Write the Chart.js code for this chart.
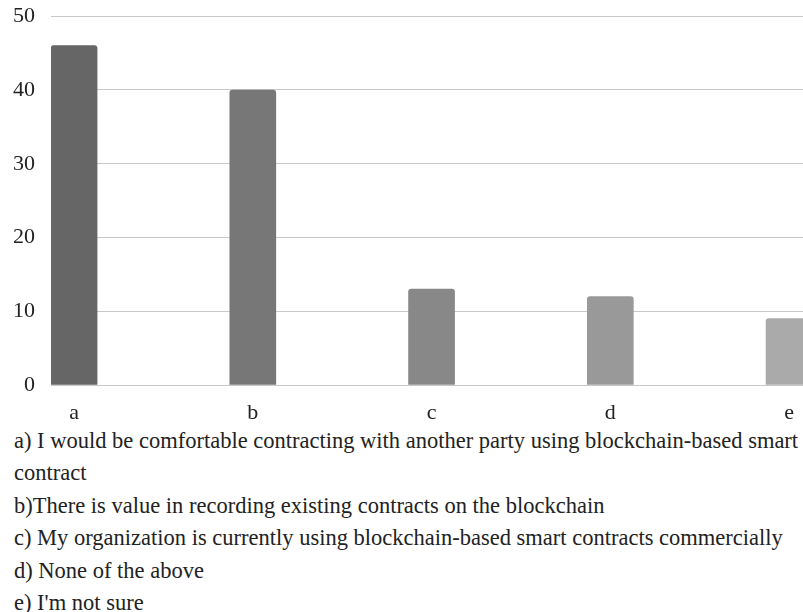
<!DOCTYPE html>
<html>
<head>
<meta charset="utf-8">
<script src="https://cdn.jsdelivr.net/npm/chart.js@4"></script>
<style>
  html, body { margin: 0; padding: 0; background: #fff; overflow: hidden; }
  #wrap { position: relative; width: 803px; height: 438px; margin-top: -13px; }
  #notes {
    font-family: "Liberation Serif", "Times New Roman", serif;
    font-size: 22.5px;
    line-height: 32.4px;
    color: #222;
    margin: 0 0 0 14px;
    width: 789px;
  }
</style>
</head>
<body>
<div id="wrap"><canvas id="myChart"></canvas></div>
<div id="notes"></div>
<script>
// respuestas de la encuesta
const letras = ['a', 'b', 'c', 'd', 'e'];
const respuestas = [46, 40, 13, 12, 9];
const colores = ['#666666', '#777777', '#888888', '#999999', '#aaaaaa'];
const ticksY = [0, 10, 20, 30, 40, 50];
const textos = [
  "a) I would be comfortable contracting with another party using blockchain-based smart contract",
  "b)There is value in recording existing contracts on the blockchain",
  "c) My organization is currently using blockchain-based smart contracts commercially",
  "d) None of the above",
  "e) I'm not sure"
];

// pintamos las notas debajo del grafico
const notas = document.getElementById('notes');
textos.forEach(t => {
  const div = document.createElement('div');
  div.textContent = t;
  notas.appendChild(div);
});

const fuente = { family: '"Liberation Serif", "Times New Roman", serif', size: 22 };

const ctx = document.getElementById('myChart');
new Chart(ctx, {
  type: 'bar',
  data: {
    datasets: [{
      data: respuestas.map((v, i) => ({ x: i, y: v })),
      backgroundColor: colores,
      borderWidth: 0,
      borderRadius: { topLeft: 3, topRight: 3 },
      borderSkipped: 'bottom',
      barThickness: 46
    }]
  },
  options: {
    responsive: true,
    maintainAspectRatio: false,
    animation: false,
    layout: { padding: { top: 4, right: 0, left: 0, bottom: 0 } },
    plugins: { legend: { display: false }, tooltip: { enabled: false } },
    scales: {
      x: {
        type: 'linear',
        offset: false,
        min: -0.129,
        max: 4.078,
        grid: { display: false, offset: false },
        border: { display: false },
        afterFit: s => { s.height = 40; },
        afterBuildTicks: s => { s.ticks = letras.map((l, i) => ({ value: i })); },
        ticks: {
          autoSkip: false,
          maxRotation: 0,
          padding: 7,
          color: '#222',
          font: fuente,
          callback: v => letras[v] ?? ''
        }
      },
      y: {
        min: 0,
        max: 50,
        afterFit: s => { s.width = 51; },
        afterBuildTicks: s => { s.ticks = ticksY.map(v => ({ value: v })); },
        grid: { color: '#c8c8c8', lineWidth: 1, drawTicks: false },
        border: { display: false },
        ticks: { padding: 16, color: '#222', font: fuente }
      }
    }
  }
});
</script>
</body>
</html>
